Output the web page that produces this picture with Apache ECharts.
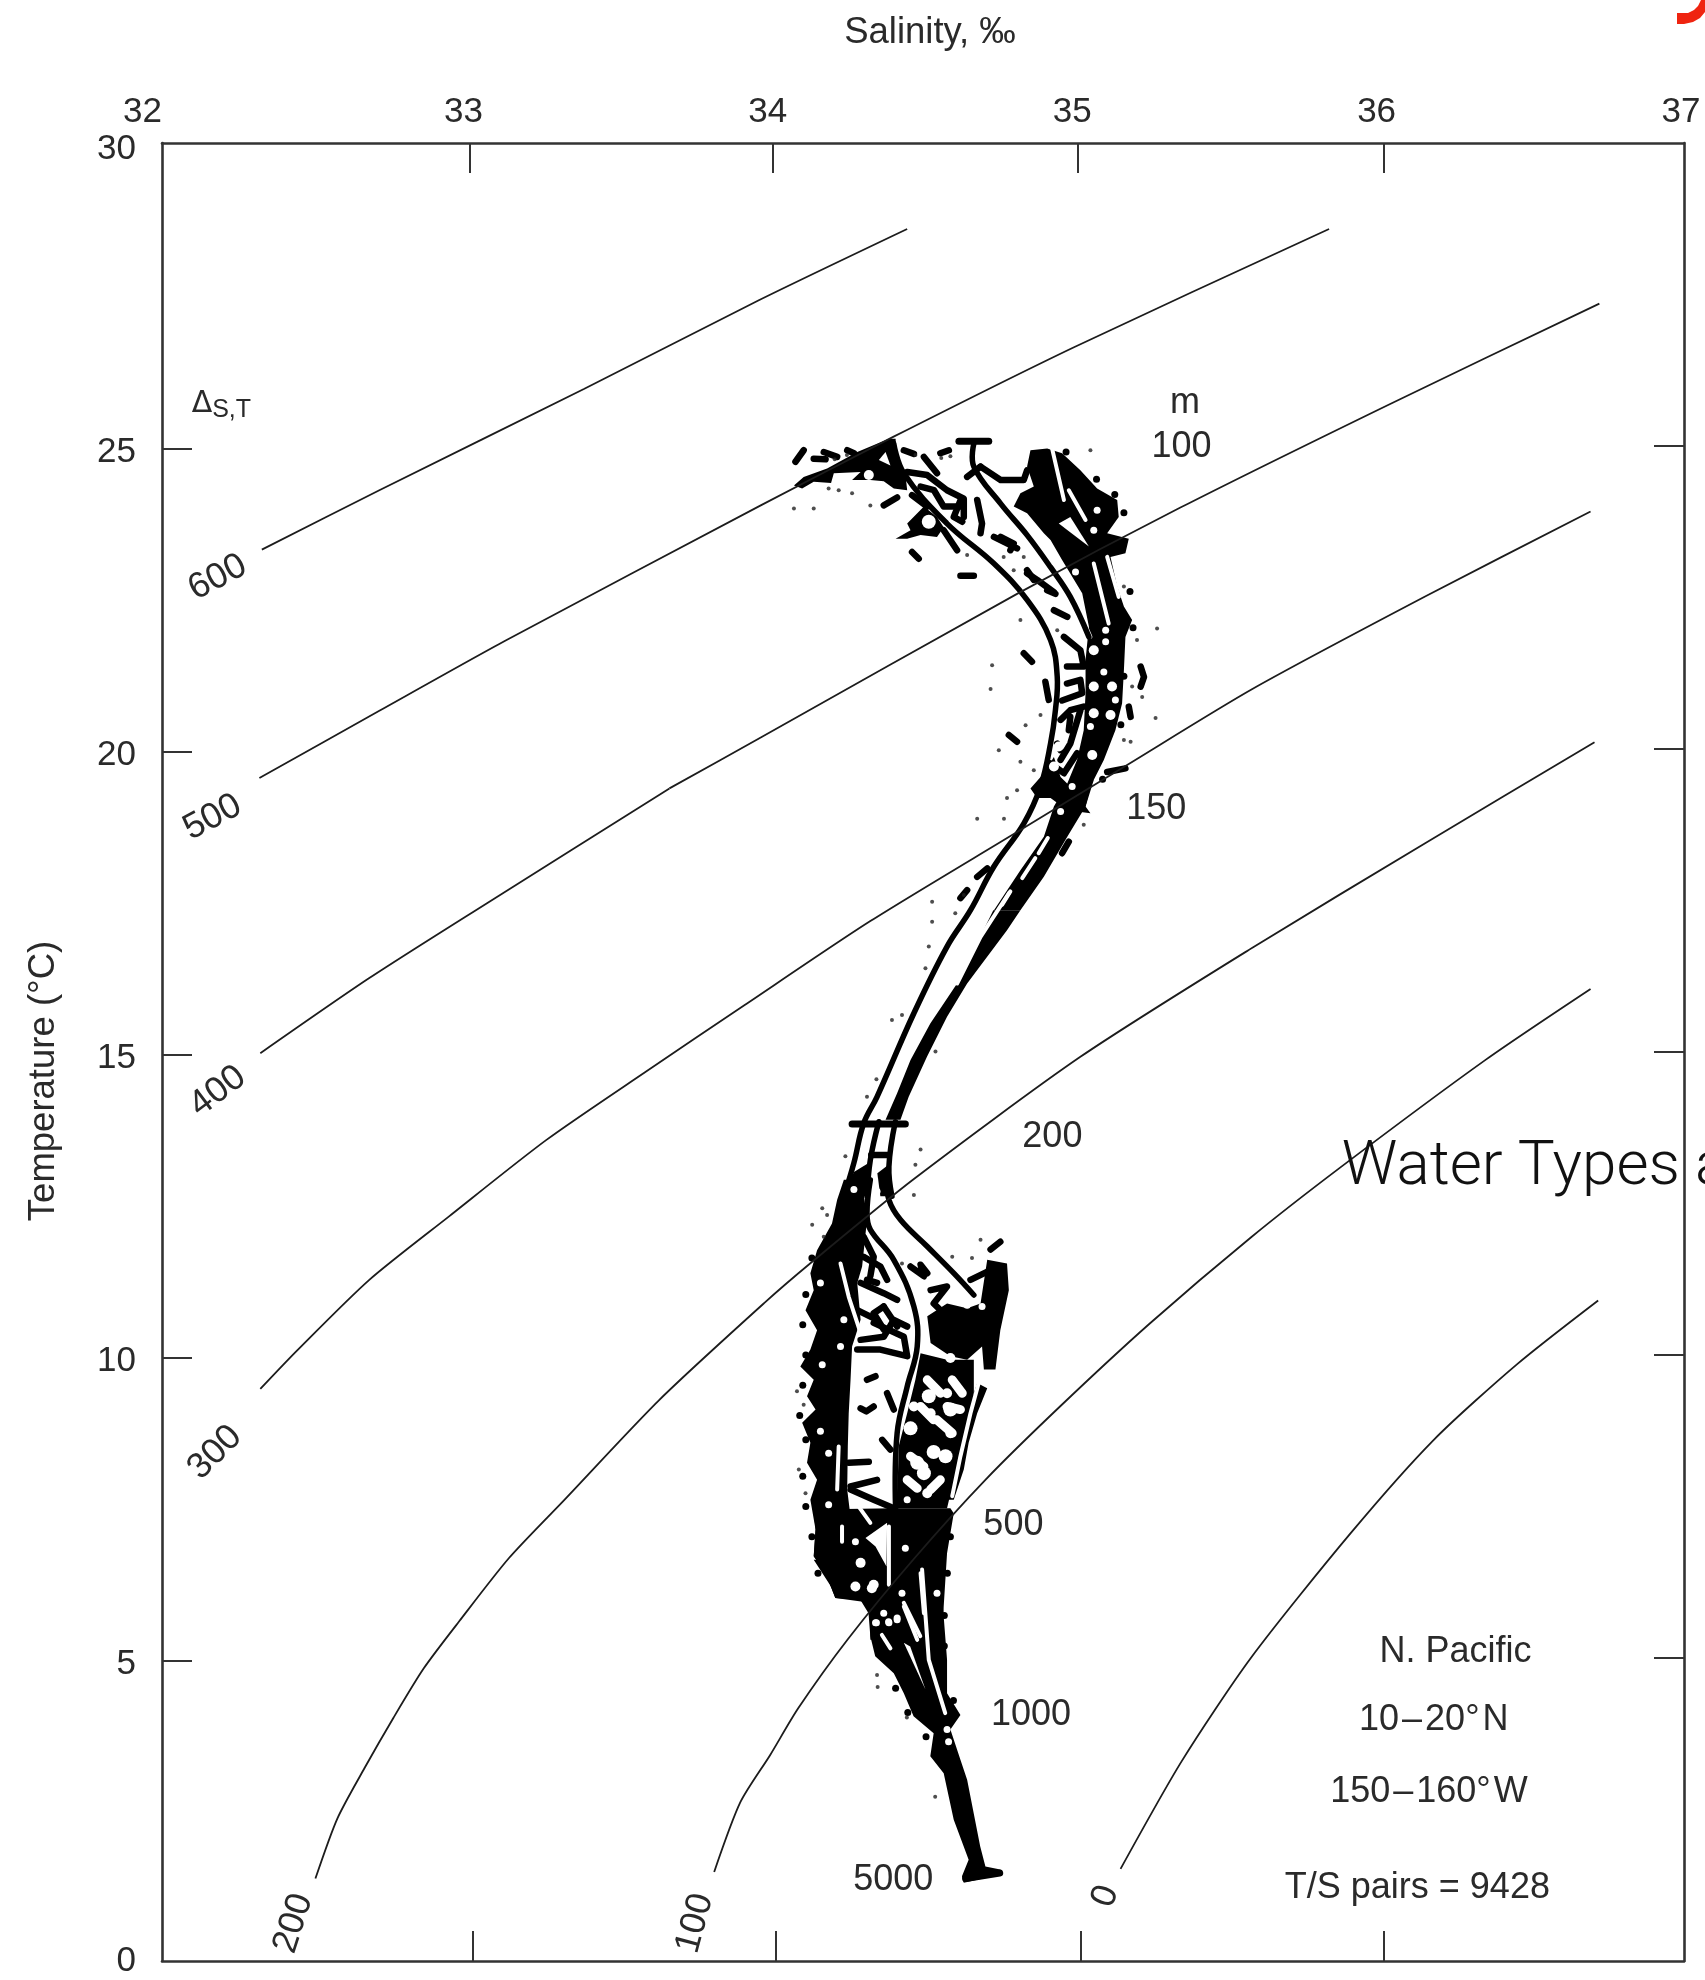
<!DOCTYPE html>
<html><head><meta charset="utf-8">
<style>html,body{margin:0;padding:0;background:#fff;overflow:hidden}#c{width:1705px;height:1980px}</style>
<script src="https://cdn.jsdelivr.net/npm/echarts@6/dist/echarts.min.js"></script>
</head><body><div id="c"></div>
<script>
// ---- tick positions as drawn in the source figure
const salinityLabels=[32,33,34,35,36,37];
const temperatureLabels=[0,5,10,15,20,25,30];
const topTicks=[33.012,34.008,35.008,36.012];
const bottomTicks=[33.021,34.017,35.017,36.012];
const leftTicks=[4.96,9.96,14.96,19.96,24.96];
const rightTicks=[5,10,15,20,25];
// ---- constant-census isolines [salinity, temperature]
const iso600=[[32.328,23.29],[32.714,24.27],[33.386,25.94],[33.959,27.40],[34.448,28.58]];
const iso500=[[32.320,19.52],[32.714,20.63],[33.129,21.79],[33.967,24.02],[34.402,25.15],[34.996,26.63],[35.834,28.58]];
const iso400a=[[32.323,14.98],[32.681,16.22],[33.069,17.46],[33.667,19.35]];
const iso400b=[[33.667,19.35],[33.967,20.19],[34.809,22.56],[35.344,23.98],[36.033,25.69],[36.722,27.35]];
const iso300=[[32.323,9.44],[32.445,10.08],[32.681,11.24],[32.941,12.28],[33.263,13.55],[33.588,14.67],[33.913,15.77],[34.327,17.16],[34.809,18.63],[35.165,19.72],[35.582,20.99],[36.151,22.52],[36.693,23.92]];
const iso200=[[32.504,1.36],[32.576,2.35],[32.665,3.18],[32.760,4.01],[32.860,4.83],[32.977,5.61],[33.140,6.65],[33.322,7.61],[33.634,9.26],[33.979,10.86],[34.134,11.53],[34.469,12.90],[35.017,14.92],[35.582,16.72],[36.151,18.45],[36.706,20.11]];
const iso100=[[33.814,1.47],[33.900,2.62],[33.998,3.40],[34.090,4.17],[34.253,5.31],[34.469,6.63],[34.705,7.94],[34.950,9.15],[35.245,10.52],[35.577,11.94],[35.867,13.08],[36.348,14.87],[36.693,16.04]];
const iso0=[[35.149,1.52],[35.349,3.29],[35.577,5.0],[35.905,7.06],[36.178,8.60],[36.452,9.85],[36.718,10.90]];
const isoLabels=[['600',32.183,22.83,28],['500',32.166,18.87,28],['400',32.183,14.35,37],['300',32.174,8.39,45],['200',32.432,0.62,72],['100',33.751,0.62,75],['0',35.100,1.07,70]];
// ---- T/S cloud: solid black regions
const bandUpper=[[34.853,24.93],[34.908,24.96],[34.957,24.88],[35.017,24.60],[35.072,24.30],[35.138,24.11],[35.143,23.83],[35.105,23.56],[35.176,23.47],[35.165,23.23],[35.116,23.17],[35.138,22.68],[35.160,22.35],[35.187,22.13],[35.165,21.85],[35.160,21.30],[35.154,20.75],[35.132,20.31],[35.094,19.82],[35.050,19.38],[35.034,19.05],[34.974,18.55],[34.897,17.89],[34.820,17.34],[34.733,17.34],[34.820,18.00],[34.897,18.55],[34.930,19.05],[34.974,19.43],[35.006,19.82],[35.028,20.31],[35.034,20.92],[35.034,21.47],[35.045,22.02],[35.023,22.57],[34.957,23.12],[34.919,23.45],[34.897,23.56],[34.842,23.89],[34.798,24.00],[34.820,24.22],[34.864,24.33],[34.842,24.66]];
const junctionUpper=[[34.853,19.35],[34.897,19.60],[34.930,19.87],[34.952,19.54],[35.006,19.27],[35.061,19.49],[35.034,19.05],[35.050,18.94],[34.974,18.99],[34.919,19.19],[34.875,19.19]];
const bandNeck=[[34.731,17.34],[34.820,17.34],[34.776,17.01],[34.645,16.13],[34.579,15.58],[34.513,14.92],[34.453,14.26],[34.426,13.88],[34.377,13.88],[34.415,14.32],[34.459,14.87],[34.524,15.47],[34.612,16.13]];
const neckLeft=[[34.240,12.62],[34.273,13.02],[34.316,13.15],[34.316,12.62]];
const neckRight=[[34.350,13.0],[34.39,13.15],[34.40,12.62],[34.36,12.62]];
const wedgeTop=[[34.076,24.35],[34.108,24.49],[34.185,24.63],[34.284,24.90],[34.388,25.12],[34.410,25.12],[34.413,24.82],[34.442,24.55],[34.448,24.27],[34.404,24.30],[34.371,24.42],[34.327,24.44],[34.267,24.44],[34.295,24.57],[34.207,24.55],[34.198,24.39],[34.141,24.41],[34.103,24.30]];
const patchUpper=[[34.410,23.47],[34.459,23.61],[34.448,23.72],[34.503,24.00],[34.546,23.83],[34.568,23.66],[34.546,23.50],[34.492,23.53],[34.448,23.47]];
const columnLeft=[[34.240,12.89],[34.218,12.56],[34.201,12.17],[34.152,11.73],[34.130,11.35],[34.141,11.07],[34.114,10.74],[34.152,10.41],[34.130,10.09],[34.097,9.81],[34.141,9.59],[34.119,9.32],[34.147,9.10],[34.103,8.88],[34.130,8.55],[34.119,8.22],[34.152,7.94],[34.130,7.61],[34.147,7.12],[34.141,6.68],[34.180,6.40],[34.212,5.99],[34.295,5.96],[34.251,7.78],[34.253,8.49],[34.256,9.04],[34.262,9.59],[34.267,10.14],[34.295,10.58],[34.284,11.19],[34.300,11.46],[34.316,12.23],[34.300,12.89]];
const massLower=[[34.141,7.45],[34.404,7.47],[34.590,7.47],[34.601,7.39],[34.579,6.73],[34.568,5.85],[34.563,5.30],[34.327,5.30],[34.327,5.91],[34.212,5.99],[34.180,6.40],[34.141,6.68],[34.147,7.12]];
const blobRight=[[34.514,10.64],[34.579,10.85],[34.645,10.77],[34.689,10.85],[34.711,11.57],[34.776,11.51],[34.782,11.07],[34.754,10.41],[34.738,9.76],[34.700,9.76],[34.694,10.14],[34.645,9.92],[34.590,9.98],[34.525,10.20]];
const stripRight=[[34.678,9.54],[34.711,9.45],[34.678,9.04],[34.650,8.55],[34.634,8.11],[34.601,7.61],[34.579,7.61],[34.612,8.33],[34.645,9.04]];
const massMiddle=[[34.492,10.03],[34.579,9.92],[34.667,9.92],[34.667,9.37],[34.634,8.60],[34.601,7.94],[34.579,7.47],[34.415,7.47],[34.420,8.49],[34.448,9.04],[34.475,9.59]];
const tail=[[34.141,6.62],[34.212,6.07],[34.294,5.96],[34.321,5.74],[34.327,5.36],[34.343,5.03],[34.404,4.75],[34.437,4.42],[34.469,4.04],[34.535,3.76],[34.524,3.38],[34.568,3.10],[34.601,2.33],[34.650,1.67],[34.628,1.40],[34.634,1.29],[34.760,1.43],[34.754,1.51],[34.705,1.56],[34.688,1.89],[34.645,2.99],[34.623,3.32],[34.590,3.82],[34.623,4.06],[34.579,4.42],[34.579,4.97],[34.562,6.07],[34.568,6.62]];
// ---- T/S cloud: envelope strands
const strandLeft=[[34.404,25.04],[34.437,24.55],[34.579,23.72],[34.733,23.06],[34.842,22.46],[34.919,21.80],[34.941,21.19],[34.935,20.64],[34.919,20.09],[34.886,19.38],[34.831,18.77],[34.733,18.06],[34.656,17.34],[34.579,16.74],[34.470,15.64],[34.349,14.26],[34.305,13.82],[34.273,13.17],[34.240,12.62]];
const strandUpperMid=[[34.667,25.04],[34.667,24.66],[34.755,24.05],[34.842,23.53],[34.919,23.00],[34.984,22.51],[35.045,21.85]];
const strandNeckMid=[[34.355,13.85],[34.327,13.22],[34.316,12.62]];
const strandNeckRight=[[34.409,13.85],[34.388,13.11],[34.398,12.62]];
const strandCentral=[[34.327,12.89],[34.316,12.34],[34.327,12.07],[34.404,11.57],[34.470,10.80],[34.481,10.14],[34.448,9.48],[34.415,8.71],[34.410,7.45]];
const strandRight=[[34.382,12.89],[34.388,12.56],[34.426,12.23],[34.514,11.79],[34.601,11.35],[34.667,10.99]];
const capTop=[[34.618,25.08],[34.716,25.08]];
const capMid=[[34.267,13.81],[34.442,13.81]];
const capBottom=[[34.640,1.36],[34.752,1.45]];
// ---- T/S cloud: short scattered filaments
const filaments=[
[[34.448,24.57],[34.514,24.52],[34.579,24.27],[34.634,24.13],[34.634,23.83]],
[[34.503,24.82],[34.546,24.55]],
[[34.689,24.66],[34.755,24.44],[34.831,24.44],[34.842,24.60]],
[[34.645,24.49],[34.689,24.66]],
[[34.678,24.11],[34.694,23.72],[34.689,23.56]],
[[34.733,23.50],[34.809,23.31]],
[[34.568,23.61],[34.612,23.28]],
[[34.623,22.86],[34.667,22.86]],
[[34.464,23.25],[34.486,23.14]],
[[34.842,22.90],[34.875,22.79],[34.930,22.59]],
[[34.930,22.29],[34.974,22.18]],
[[34.963,21.85],[35.017,21.63],[35.028,21.36],[34.973,21.36]],
[[34.973,21.08],[35.017,21.14],[35.023,20.92],[34.957,20.80]],
[[34.952,20.48],[34.984,20.64],[35.028,20.70]],
[[34.941,20.09],[34.952,19.98]],
[[34.919,19.76],[34.963,19.60],[35.006,19.93]],
[[34.902,21.11],[34.913,20.81]],
[[34.371,24.02],[34.415,24.15]],
[[35.105,19.62],[35.165,19.68]],
[[34.831,21.58],[34.858,21.44]],
[[34.782,20.23],[34.809,20.12]],
[[35.176,20.70],[35.182,20.53]],
[[35.215,21.36],[35.226,21.19],[35.215,21.03]],
[[34.957,18.28],[34.979,18.47]],
[[34.678,17.89],[34.711,18.03]],
[[34.623,17.54],[34.645,17.67]],
[[34.081,24.74],[34.108,24.93]],
[[34.141,24.79],[34.180,24.78]],
[[34.437,24.93],[34.470,24.87]],
[[34.557,24.88],[34.585,24.93]],
[[34.174,24.90],[34.218,24.82]],
[[34.251,24.93],[34.273,24.88]],
[[34.492,24.33],[34.536,24.27],[34.568,24.00],[34.623,24.00]],
[[34.464,24.19],[34.514,24.00]],
[[34.623,24.10],[34.601,23.83],[34.629,23.75]],
[[34.755,23.50],[34.798,23.39],[34.787,23.28]],
[[34.842,22.95],[34.864,22.79]],
[[34.908,22.62],[34.935,22.56]],
[[34.952,19.82],[34.984,20.09],[35.017,20.64]],
[[34.984,20.53],[34.979,20.31]],
[[34.305,11.95],[34.338,11.62],[34.327,11.30]],
[[34.295,11.19],[34.371,11.02],[34.415,10.91]],
[[34.284,10.74],[34.349,10.58]],
[[34.338,10.53],[34.437,10.30],[34.448,9.98],[34.360,10.09],[34.284,10.09]],
[[34.371,10.80],[34.415,10.47]],
[[34.305,11.62],[34.360,11.46],[34.382,11.24]],
[[34.316,11.24],[34.349,11.19]],
[[34.295,10.25],[34.371,10.30],[34.404,10.58],[34.448,10.47]],
[[34.371,10.80],[34.338,10.69],[34.371,10.42]],
[[34.316,9.59],[34.344,9.65]],
[[34.382,9.37],[34.404,9.10]],
[[34.295,9.12],[34.314,9.07],[34.338,9.15]],
[[34.366,8.60],[34.393,8.44]],
[[34.256,8.22],[34.322,8.24]],
[[34.262,7.83],[34.349,7.94]],
[[34.262,7.78],[34.338,7.61],[34.404,7.47]],
[[34.525,11.07],[34.579,11.13],[34.535,10.85],[34.574,10.66],[34.623,10.69]],
[[34.459,11.46],[34.503,11.30],[34.492,11.49],[34.514,11.35]],
[[34.656,11.24],[34.722,11.40]],
[[34.722,11.74],[34.754,11.87]],
[[34.273,12.90],[34.310,12.90]],
[[34.330,13.30],[34.385,13.30]]
];
// ---- T/S cloud: white gaps
const gapPolygons=[
[[34.355,24.77],[34.377,24.90],[34.393,24.68]],
[[34.946,23.72],[34.984,23.83],[35.045,23.34]],
[[34.311,6.98],[34.382,7.23],[34.380,6.51],[34.344,6.84]],
[[34.437,5.25],[34.458,5.19],[34.508,4.48]]
];
const gapStripes=[
[[34.924,24.96],[34.963,24.11]],
[[34.979,24.27],[35.034,23.78]],
[[35.061,23.06],[35.110,22.07]],
[[35.105,23.17],[35.143,22.51]],
[[35.012,22.29],[35.050,21.85]],
[[34.910,18.53],[34.880,18.28]],
[[34.869,18.20],[34.826,17.87]],
[[34.787,17.65],[34.760,17.43]],
[[34.782,17.62],[34.689,16.90],[34.612,16.13]],
[[34.229,11.51],[34.256,10.96],[34.295,10.36]],
[[34.223,8.49],[34.218,7.78]],
[[34.492,6.40],[34.503,5.74]],
[[34.437,5.85],[34.481,5.30]],
[[34.388,7.17],[34.388,6.21]],
[[34.234,7.17],[34.234,6.92]],
[[34.273,7.61],[34.327,7.23]],
[[34.689,9.65],[34.656,9.04],[34.623,8.33],[34.596,7.67]],
[[34.437,5.91],[34.491,5.36]],
[[34.497,6.46],[34.519,4.97],[34.573,4.09]],
[[34.365,5.38],[34.393,5.16]]
];
const gapDashes=[
[[34.514,9.59],[34.557,9.37]],
[[34.492,9.15],[34.535,8.93]],
[[34.546,8.93],[34.596,8.71]],
[[34.459,8.33],[34.503,8.16]],
[[34.448,7.94],[34.481,7.80]],
[[34.525,7.78],[34.557,7.94]],
[[34.596,9.59],[34.629,9.37]],
[[34.579,9.15],[34.623,9.10]]
];
const gapDotsLarge=[[34.519,23.75],[34.590,9.10],[34.459,8.79],[34.574,8.33],[34.481,8.22],[34.519,9.32],[34.535,8.40],[34.503,8.05]];
const gapDotsMedium=[[35.061,21.63],[35.121,21.03],[35.061,20.59],[35.116,20.56],[35.056,19.90],[35.061,21.03],[34.946,20.04],[34.930,19.71],[34.295,6.57],[34.338,6.21],[34.278,6.18],[34.332,6.15],[34.322,24.52],[34.590,9.95],[34.590,8.71],[34.470,9.15],[34.525,9.04],[34.579,9.37],[34.514,7.72]];
const gapDotsSmall=[[35.100,21.77],[35.100,21.96],[35.001,22.92],[34.990,19.38],[34.952,18.97],[35.094,21.27],[35.132,20.81],[35.050,20.37],[35.072,23.94],[35.061,23.61],[34.163,11.19],[34.240,10.58],[34.169,9.84],[34.163,8.74],[34.190,8.38],[34.190,7.53],[34.229,10.14],[34.431,6.07],[34.371,5.74],[34.344,5.58],[34.388,5.58],[34.415,5.63],[34.442,6.81],[34.278,6.92],[34.546,6.07],[34.448,7.61],[34.694,10.80],[34.645,10.82],[34.415,5.66],[34.387,5.60],[34.347,5.58],[34.579,3.82],[34.584,3.62],[34.273,12.73],[34.349,12.70]];
const cloudFringe=[[34.135,11.6],[34.115,11.0],[34.105,10.5],[34.115,10.0],[34.105,9.5],[34.095,9.0],[34.115,8.6],[34.105,8.0],[34.115,7.5],[34.135,7.0],[34.155,6.4],[35.16,23.9],[35.18,22.6],[35.19,22.0],[35.16,21.2],[35.15,20.4],[35.09,19.5],[34.97,24.9],[35.07,24.45],[35.13,24.2],[34.59,7.0],[34.58,6.4],[34.57,5.7],[34.57,5.2],[34.36,5.5],[34.41,4.5],[34.45,4.1],[34.51,3.7],[34.60,4.3]];
const speckPoints=[[34.223,24.27],[34.267,24.22],[34.190,24.30],[34.141,23.97],[34.076,23.97],[34.327,24.02],[34.645,23.20],[34.820,22.13],[34.941,21.96],[34.727,21.38],[34.722,20.99],[34.837,20.39],[34.749,19.98],[34.820,19.79],[34.864,19.65],[34.809,19.32],[34.776,19.19],[34.678,18.85],[34.766,18.85],[35.028,18.75],[35.187,21.03],[35.220,20.86],[35.160,20.15],[35.182,20.12],[35.264,20.51],[35.269,21.99],[35.050,24.93],[35.203,21.80],[34.886,20.56],[34.765,23.17],[34.798,22.95],[34.831,23.17],[35.160,22.68],[34.634,17.59],[34.316,14.26],[34.245,13.28],[34.508,16.38],[34.431,15.61],[34.530,17.48],[34.530,17.15],[34.606,17.29],[34.519,16.74],[34.541,15.01],[34.492,13.39],[34.475,13.14],[34.347,14.55],[34.470,12.64],[34.398,15.53],[34.169,12.42],[34.185,12.31],[34.136,12.15],[34.174,11.95],[34.661,11.60],[34.689,11.90],[34.086,9.40],[34.092,8.11],[34.114,7.72],[34.108,9.18],[34.431,11.51],[34.596,11.62],[34.349,4.72],[34.351,4.52],[34.540,2.71],[34.447,4.02],[34.475,24.85],[34.560,24.80],[34.590,24.83],[34.210,24.78],[34.250,24.85]];
// ---- text
const depthUnit=[['m',35.361,25.71],['100',35.349,24.99],['150',35.266,19.01],['200',34.925,13.60],['500',34.797,7.20],['1000',34.855,4.05],['5000',34.402,1.33]];
const regionNotes=[['N. Pacific',36.249,5.10],['10\u200A\u2013\u200A20\u00B0\u200AN',36.178,3.97],['150\u200A\u2013\u200A160\u00B0\u200AW',36.162,2.78],['T/S pairs = 9428',36.124,1.20]];
const overlayTitle=['Water Types a',35.876,13.07];
const censusSymbol=[32.195,25.69];

const FONT='"Liberation Sans", Arial, sans-serif', INK='#2a2a2a';
function shapes(list,type,style,z,smooth){
  return {type:'custom',coordinateSystem:'cartesian2d',silent:true,z,clip:false,animation:false,
    data:list.map((p,i)=>[p[0][0],p[0][1],i]),encode:{x:0,y:1},
    renderItem:(_,api)=>({type,shape:{points:list[api.value(2)].map(p=>api.coord(p)),smooth:smooth||0},style})};
}
const fill=l=>shapes(l,'polygon',{fill:'#000'},10);
const strokeStyle=(c,w)=>({fill:null,stroke:c,lineWidth:w,lineCap:'round',lineJoin:'round'});
const dots=(d,size,color,z,op)=>({type:'scatter',data:d,symbolSize:size,silent:true,z,animation:false,itemStyle:{color,opacity:op||1}});
const iso=d=>({type:'line',data:d,smooth:0.25,symbol:'none',silent:true,z:20,animation:false,lineStyle:{color:'#1c1c1c',width:1.8}});
const texts=(d,size,extra)=>({type:'scatter',symbolSize:1,silent:true,z:30,animation:false,itemStyle:{color:'transparent',opacity:1},
  data:d.map(r=>({value:[r[1],r[2]],label:{rotate:r[3]||0}})),
  label:Object.assign({show:true,position:'inside',align:'center',verticalAlign:'middle',fontFamily:FONT,fontSize:size,color:INK,
    formatter:p=>d[p.dataIndex][0]},extra||{})});

const chart=echarts.init(document.getElementById('c'),null,{renderer:'canvas'});
const axisLine={show:true,onZero:false,lineStyle:{color:'#333',width:2.6}};
const tick=v=>({show:true,inside:true,length:30,customValues:v,lineStyle:{color:'#333',width:2}});
chart.setOption({
  backgroundColor:'#fff',animation:false,tooltip:{show:false},
  grid:{left:162,right:21,top:143,bottom:19,containLabel:false},
  xAxis:[
    {type:'value',position:'bottom',min:32,max:37,interval:1,axisLine,axisTick:tick(bottomTicks),axisLabel:{show:false},splitLine:{show:false}},
    {type:'value',position:'top',min:32,max:37,interval:1,axisLine,axisTick:tick(topTicks),splitLine:{show:false},
     name:'Salinity, \u2030',nameLocation:'middle',nameGap:92,nameTextStyle:{fontFamily:FONT,fontSize:36.5,color:INK,padding:[0,0,0,14]},
     axisLabel:{show:true,margin:13,customValues:salinityLabels,fontFamily:FONT,fontSize:35,color:INK,alignMinLabel:'right',
       formatter:v=>v===32?'{min|'+v+'}':'{t|'+v+'}',
       rich:{t:{fontFamily:FONT,fontSize:35,color:INK,padding:[0,6,0,0]},min:{fontFamily:FONT,fontSize:35,color:INK}}}}
  ],
  yAxis:[
    {type:'value',position:'left',min:0,max:30,interval:5,axisLine,axisTick:tick(leftTicks),splitLine:{show:false},
     name:'Temperature (\u00B0C)',nameLocation:'middle',nameGap:100,nameRotate:90,nameTextStyle:{fontFamily:FONT,fontSize:36.5,color:INK,padding:[0,58,0,0]},
     axisLabel:{show:true,margin:26,customValues:temperatureLabels,fontFamily:FONT,fontSize:35,color:INK,
       formatter:v=>v===0?'{z|0}':'{v|'+v+'}',
       rich:{v:{fontFamily:FONT,fontSize:35,color:INK,padding:[12,0,0,0]},z:{fontFamily:FONT,fontSize:35,color:INK}}}},
    {type:'value',position:'right',min:0,max:30,interval:5,axisLine,axisTick:tick(rightTicks),splitLine:{show:false},axisLabel:{show:false}}
  ],
  graphic:[{type:'polygon',z:40,silent:true,shape:{points:[[1677,13],[1688,13],[1694,10],[1698,6],[1701,0],[1705,0],[1705,12],[1700,18],[1693,22],[1684,24],[1677,24]]},style:{fill:'#EF2410'}}],
  series:[
    fill([bandUpper,junctionUpper,bandNeck,neckLeft,neckRight,wedgeTop,patchUpper,columnLeft,massLower,blobRight,stripRight,massMiddle,tail]),
    shapes(filaments,'polyline',strokeStyle('#000',6.5),11),
    dots(cloudFringe,7,'#000',11),
    shapes(gapPolygons,'polygon',{fill:'#fff'},12),
    shapes(gapStripes,'polyline',strokeStyle('#fff',4),12),
    shapes(gapDashes,'polyline',strokeStyle('#fff',9),12),
    dots(gapDotsLarge,14,'#fff',12),
    dots(gapDotsMedium,10,'#fff',12),
    dots(gapDotsSmall,7,'#fff',12),
    shapes([strandLeft,strandUpperMid,strandCentral,strandRight,strandNeckMid,strandNeckRight],'polyline',strokeStyle('#000',5.5),13,0.4),
    shapes([capTop,capMid,capBottom],'polyline',strokeStyle('#000',7),13),
    dots(speckPoints,4,'#222',14,0.8),
    iso(iso600),iso(iso500),iso(iso400a),iso(iso400b),iso(iso300),iso(iso200),iso(iso100),iso(iso0),
    texts(isoLabels,36),
    texts(depthUnit,36),
    texts(regionNotes,36),
    texts([overlayTitle],62,{align:'left',color:'#111',fontFamily:'Roboto, "Liberation Sans", sans-serif',fontWeight:300}),
    {type:'scatter',symbolSize:1,silent:true,z:30,animation:false,itemStyle:{color:'transparent',opacity:1},data:[censusSymbol],
     label:{show:true,position:'inside',formatter:'{d|\u0394}{s|S,T}',
       rich:{d:{fontFamily:'"DejaVu Sans"',fontSize:30,color:INK},s:{fontFamily:FONT,fontSize:25,color:INK,padding:[12,0,0,0]}}}}
  ]
});
</script></body></html>
